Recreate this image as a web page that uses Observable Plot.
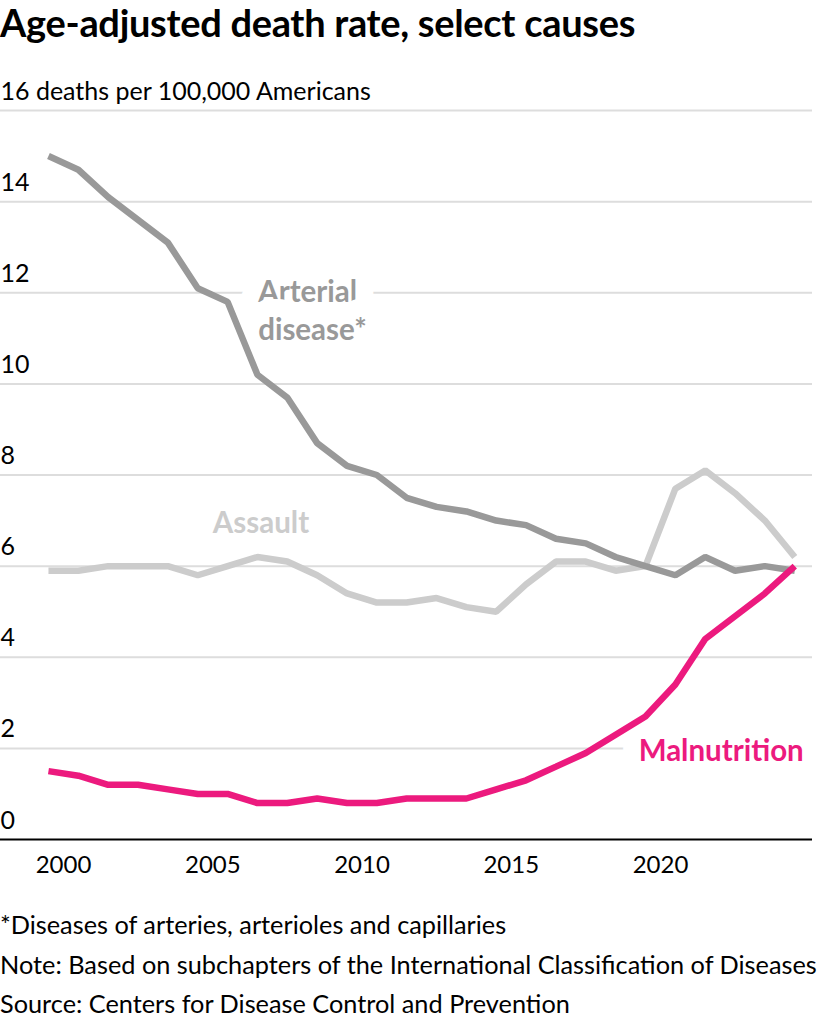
<!DOCTYPE html>
<html>
<head>
<meta charset="utf-8">
<script src="https://cdn.jsdelivr.net/npm/d3@7"></script>
<script src="https://cdn.jsdelivr.net/npm/@observablehq/plot@0.6"></script>
<style>
  html, body { margin: 0; padding: 0; background: #fff; }
  body { width: 820px; height: 1024px; position: relative; overflow: hidden; font-family: Lato, "Open Sans", sans-serif; color: #000; }
  #title { position: absolute; left: 0; top: 1px; font-weight: 700; font-size: 38px; line-height: 42px; letter-spacing: -0.3px; white-space: nowrap; }
  #chart { position: absolute; left: 0; top: 60px; }
  #notes { position: absolute; left: 0; top: 905px; font-size: 25.3px; line-height: 39.5px; white-space: nowrap; }
</style>
</head>
<body>
<div id="title">Age-adjusted death rate, select causes</div>
<div id="chart"></div>
<div id="notes">
  <div>*Diseases of arteries, arterioles and capillaries</div>
  <div>Note: Based on subchapters of the International Classification of Diseases</div>
  <div>Source: Centers for Disease Control and Prevention</div>
</div>
<script>
// Age-adjusted deaths per 100,000 Americans, by year
const years = [1999, 2000, 2001, 2002, 2003, 2004, 2005, 2006, 2007, 2008, 2009, 2010, 2011,
               2012, 2013, 2014, 2015, 2016, 2017, 2018, 2019, 2020, 2021, 2022, 2023, 2024];
const arterial = [15.0, 14.7, 14.1, 13.6, 13.1, 12.1, 11.8, 10.2, 9.7, 8.7, 8.2, 8.0, 7.5,
                  7.3, 7.2, 7.0, 6.9, 6.6, 6.5, 6.2, 6.0, 5.8, 6.2, 5.9, 6.0, 5.9];
const assault = [5.9, 5.9, 6.0, 6.0, 6.0, 5.8, 6.0, 6.2, 6.1, 5.8, 5.4, 5.2, 5.2,
                 5.3, 5.1, 5.0, 5.6, 6.1, 6.1, 5.9, 6.0, 7.7, 8.1, 7.6, 7.0, 6.2];
const malnutrition = [1.5, 1.4, 1.2, 1.2, 1.1, 1.0, 1.0, 0.8, 0.8, 0.9, 0.8, 0.8, 0.9,
                      0.9, 0.9, 1.1, 1.3, 1.6, 1.9, 2.3, 2.7, 3.4, 4.4, 4.9, 5.4, 6.0];
const yTicks = [0, 2, 4, 6, 8, 10, 12, 14, 16];
const xTickYears = [2000, 2005, 2010, 2015, 2020];
const unitLabel = "16 deaths per 100,000 Americans";

const colors = { arterial: "#999999", assault: "#cccccc", malnutrition: "#ec1a7e" };

// Each annual value sits at mid-year
const midYear = (y) => new Date(Date.UTC(y, 6, 1));
const jan1 = (y) => new Date(Date.UTC(y, 0, 1));

const rows = (values) => years.map((y, i) => ({ date: midYear(y), value: values[i] }));
const arterialRows = rows(arterial);
const assaultRows = rows(assault);
const malnutritionRows = rows(malnutrition);

const lineOpts = { x: "date", y: "value", strokeWidth: 6.5, strokeLinejoin: "miter", strokeLinecap: "butt" };

// Series label, with a white knock-out so gridlines break around it
const seriesLabel = (text, date, value, color, options) =>
  Plot.text([{ text, date, value }], {
    x: "date", y: "value", text: "text",
    fill: color, stroke: "white", strokeWidth: 36, strokeLinejoin: "round",
    fontWeight: 700, fontSize: 29.5, lineHeight: 1.29,
    ...options
  });

const chart = Plot.plot({
  width: 820,
  height: 824,
  marginLeft: 0,
  marginRight: 8,
  marginTop: 50,
  marginBottom: 45,
  style: { fontFamily: "Lato, 'Open Sans', sans-serif", fontSize: "24px", color: "#000", background: "#fff" },
  x: { type: "utc", domain: [jan1(2000), jan1(2020)], range: [63, 660] },
  y: { domain: [0, 16] },
  marks: [
    Plot.gridY(yTicks.filter((d) => d > 0), { stroke: "#dddddd", strokeOpacity: 1, strokeWidth: 2 }),
    Plot.axisY(yTicks, {
      anchor: "left", label: null, tickSize: 0, tickPadding: 0, textAnchor: "start", dy: -19,
      fontSize: 25, tickFormat: (d) => (d === 16 ? unitLabel : String(d)), fill: "#000"
    }),
    Plot.axisX(xTickYears.map(jan1), {
      anchor: "bottom", label: null, tickSize: 0, tickPadding: 16, tickFormat: d3.utcFormat("%Y"), fill: "#000"
    }),
    seriesLabel("Arterial\ndisease*", new Date(Date.UTC(2006, 6, 10)), 12, colors.arterial, { textAnchor: "start", dy: 16 }),
    seriesLabel("Assault", jan1(2005), 7, colors.assault, { textAnchor: "start" }),
    seriesLabel("Malnutrition", midYear(2024), 2, colors.malnutrition, { textAnchor: "end", dx: 9 }),
    Plot.ruleY([0], { stroke: "#000", strokeWidth: 2 }),
    Plot.line(assaultRows, { ...lineOpts, stroke: colors.assault }),
    Plot.line(arterialRows, { ...lineOpts, stroke: colors.arterial }),
    Plot.line(malnutritionRows, { ...lineOpts, stroke: colors.malnutrition })
  ]
});

document.getElementById("chart").appendChild(chart);
</script>
</body>
</html>
